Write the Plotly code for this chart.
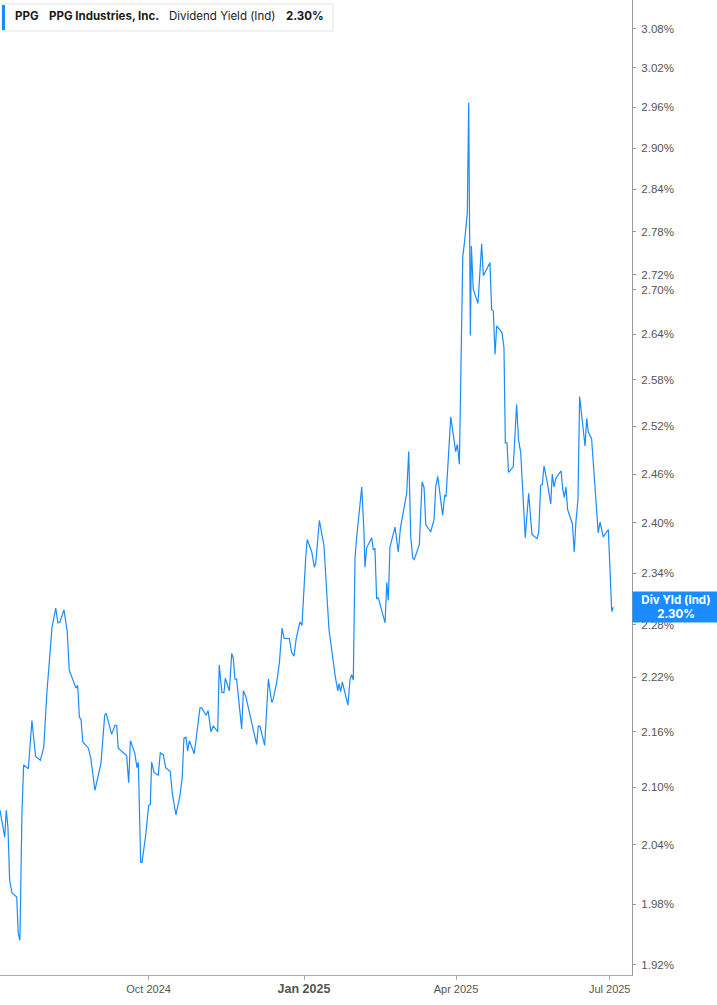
import pandas as pd
import numpy as np
import plotly.graph_objects as go

# ---- data ----
base_date = "2024-07-05"
day_offset = [
    0, 2.8, 3.7, 4.7, 5.7, 7.1, 9.9, 10.8, 11.8, 13.0, 14.0, 16.8, 18.9, 21.1, 23.9, 25.9,
    27.8, 29.6, 30.8, 33.0, 34.3, 35.5, 37.9, 39.8, 41.0, 45.0, 46.0, 47.0, 48.0, 49.0,
    52.3, 53.7, 56.2, 59.8, 62.0, 62.9, 66.1, 68.1, 69.1, 70.0, 74.0, 75.0, 76.2, 77.2,
    79.8, 81.1, 81.9, 83.3, 84.1, 86.4, 88.0, 89.0, 89.8, 91.2, 93.7, 94.9, 96.7, 98.1,
    100.8, 102.0, 104.2, 106.6, 107.9, 108.9, 110.1, 111.1, 112.1, 115.0, 116.8, 118.4,
    119.4, 122.0, 123.2, 124.9, 126.3, 128.9, 129.8, 131.4, 132.6, 133.4, 135.8, 137.2,
    138.1, 139.1, 140.1, 143.1, 144.1, 145.5, 150.6, 152.0, 152.9, 153.9, 156.7, 158.9,
    160.9, 161.8, 163.8, 165.4, 167.0, 168.2, 171.3, 172.7, 174.1, 175.3, 177.6, 178.8,
    181.0, 181.9, 184.6, 186.1, 186.9, 189.1, 191.8, 194.8, 198.5, 200.0, 200.7, 201.7,
    202.7, 206.0, 207.2, 208.2, 209.2, 210.2, 211.2, 212.6, 214.2, 215.5, 216.1, 217.1,
    220.1, 221.0, 222.0, 223.0, 224.0, 228.0, 229.0, 229.9, 230.9, 233.9, 235.8, 237.1,
    240.8, 242.0, 243.2, 244.4, 245.3, 248.3, 249.9, 251.1, 252.1, 255.0, 257.0, 258.0,
    259.2, 262.1, 263.3, 264.1, 266.0, 266.9, 269.8, 270.8, 272.0, 272.8, 274.0, 275.2,
    276.7, 277.5, 278.5, 279.1, 280.2, 283.0, 285.2, 286.2, 290.1, 291.1, 292.1, 293.1,
    294.1, 297.2, 298.4, 299.2, 300.2, 301.1, 303.9, 305.9, 307.0, 308.3, 311.0, 313.0,
    315.0, 318.0, 319.0, 320.1, 321.1, 322.1, 324.1, 326.1, 327.0, 328.0, 329.2, 332.2,
    333.2, 334.1, 335.1, 336.1, 338.9, 340.0, 341.0, 342.2, 343.2, 346.4, 347.4, 348.3,
    350.3, 354.2, 355.3, 357.2, 360.2, 362.2, 363.1,
]
div_yield = [
    2.076, 2.048, 2.076, 2.058, 2.004, 1.991, 1.987, 1.951, 1.944, 2.073, 2.124, 2.120, 2.172, 2.133, 2.129, 2.143,
    2.204, 2.243, 2.277, 2.299, 2.282, 2.283, 2.297, 2.272, 2.228, 2.208, 2.211, 2.176, 2.173, 2.149,
    2.142, 2.132, 2.097, 2.126, 2.178, 2.180, 2.157, 2.167, 2.167, 2.142, 2.135, 2.134, 2.105, 2.150,
    2.137, 2.121, 2.127, 2.022, 2.022, 2.052, 2.081, 2.082, 2.127, 2.116, 2.113, 2.137, 2.135, 2.121,
    2.117, 2.094, 2.071, 2.092, 2.111, 2.153, 2.154, 2.139, 2.150, 2.136, 2.162, 2.186,
    2.186, 2.178, 2.183, 2.160, 2.166, 2.160, 2.234, 2.203, 2.203, 2.219, 2.205, 2.247,
    2.242, 2.218, 2.218, 2.163, 2.205, 2.199, 2.157, 2.146, 2.166, 2.166, 2.145, 2.218,
    2.192, 2.196, 2.214, 2.236, 2.276, 2.264, 2.264, 2.248, 2.244, 2.263, 2.283, 2.279,
    2.358, 2.380, 2.365, 2.347, 2.351, 2.403, 2.373, 2.274, 2.221, 2.205, 2.213, 2.204,
    2.215, 2.189, 2.217, 2.223, 2.217, 2.358, 2.383, 2.414, 2.444, 2.389, 2.347, 2.370,
    2.382, 2.368, 2.369, 2.310, 2.311, 2.282, 2.329, 2.308, 2.371, 2.395, 2.365, 2.394,
    2.436, 2.488, 2.383, 2.358, 2.356, 2.374, 2.450, 2.443, 2.398, 2.389, 2.404, 2.444,
    2.457, 2.409, 2.434, 2.432, 2.512, 2.532, 2.488, 2.497, 2.472, 2.602, 2.745, 2.769,
    2.807, 2.967, 2.638, 2.760, 2.701, 2.681, 2.763, 2.719, 2.737, 2.673, 2.671, 2.613,
    2.651, 2.642, 2.622, 2.499, 2.499, 2.462, 2.469, 2.548, 2.503, 2.487, 2.382, 2.436,
    2.386, 2.381, 2.389, 2.446, 2.447, 2.470, 2.449, 2.423, 2.460, 2.444, 2.455, 2.464,
    2.441, 2.431, 2.444, 2.416, 2.399, 2.365, 2.401, 2.428, 2.558, 2.495, 2.530, 2.513,
    2.504, 2.388, 2.401, 2.383, 2.392, 2.295, 2.300,
]
y_ticks = [1.92, 1.98, 2.04, 2.10, 2.16, 2.22, 2.28, 2.34, 2.40, 2.46, 2.52, 2.58,
           2.64, 2.70, 2.72, 2.78, 2.84, 2.90, 2.96, 3.02, 3.08]
x_tick_dates = ["2024-10-01", "2025-01-01", "2025-04-01", "2025-07-01"]
x_tick_labels = ["Oct 2024", "Jan 2025", "Apr 2025", "Jul 2025"]
ticker = "PPG"
company = "PPG Industries, Inc."
metric = "Dividend Yield (Ind)"
last_label = "Div Yld (Ind)"
last_value = div_yield[-1]

dates = pd.Timestamp(base_date) + pd.to_timedelta(day_offset, unit="D")

W, H = 717, 1005
ML, MR, MT, MB = 0, 85, 0, 30
PW, PH = W - ML - MR, H - MT - MB
BLUE = "#1a8cff"


def px_x(p):
    return p / PW


def px_y(p):
    return 1 - p / PH


fig = go.Figure()
fig.add_trace(go.Scatter(x=dates, y=div_yield, mode="lines",
                         line=dict(color=BLUE, width=1.2), hoverinfo="skip",
                         showlegend=False))

xt_text = [f"<b><span style='font-size:12.5px'>{t}</span></b>" if t.startswith("Jan") else t
           for t in x_tick_labels]

fig.update_layout(
    width=W, height=H,
    margin=dict(l=ML, r=MR, t=MT, b=MB),
    paper_bgcolor="white", plot_bgcolor="white",
    font=dict(family="Liberation Sans, Arial, sans-serif", size=11, color="#555"),
    xaxis=dict(
        type="date",
        range=["2024-07-05", "2025-07-14 05:00"],
        tickvals=x_tick_dates, ticktext=xt_text,
        showgrid=False, zeroline=False,
        showline=True, linecolor="#aaaaaa", linewidth=1,
        ticks="outside", ticklen=4, tickcolor="#aaaaaa",
        tickfont=dict(size=11, color="#555"),
    ),
    yaxis=dict(
        type="log", side="right",
        range=[np.log10(1.9103), np.log10(3.125)],
        tickvals=y_ticks, ticktext=[f"{v:.2f}%" for v in y_ticks],
        showgrid=False, zeroline=False,
        showline=True, linecolor="#999999", linewidth=1,
        ticks="outside", ticklen=3, tickcolor="#999999",
        ticklabelstandoff=3,
        tickfont=dict(size=11.5, color="#555"),
    ),
)

# header box
fig.add_shape(type="rect", xref="paper", yref="paper",
              x0=px_x(2), x1=px_x(333), y0=px_y(31), y1=px_y(4),
              line=dict(color="#e3e3e3", width=1), fillcolor="white", layer="above")
fig.add_shape(type="rect", xref="paper", yref="paper",
              x0=px_x(2), x1=px_x(5), y0=px_y(30), y1=px_y(5),
              line=dict(width=0), fillcolor=BLUE, layer="above")
hdr = [(13, f"<b>{ticker}</b>"), (47, f"<b>{company}</b>"), (167, metric),
       (284, f"<b>{last_value:.2f}%</b>")]
for xp, txt in hdr:
    fig.add_annotation(xref="paper", yref="paper", x=px_x(xp), y=px_y(16),
                       xanchor="left", yanchor="middle", showarrow=False, text=txt,
                       font=dict(family="Inter, sans-serif", size=11.5, color="#1a1a1a"))

# last value label
fig.add_annotation(xref="paper", yref="y", x=1.0, y=np.log10(last_value),
                   xanchor="left", yanchor="middle", showarrow=False,
                   text=f"<b>{last_label}<br>{last_value:.2f}%</b>",
                   width=84, height=28, bgcolor=BLUE, borderpad=1,
                   font=dict(family="Inter, sans-serif", size=11.5, color="white"))

fig.write_html("out.html", config={"displayModeBar": False},
               post_script="document.body.style.margin='0';")
